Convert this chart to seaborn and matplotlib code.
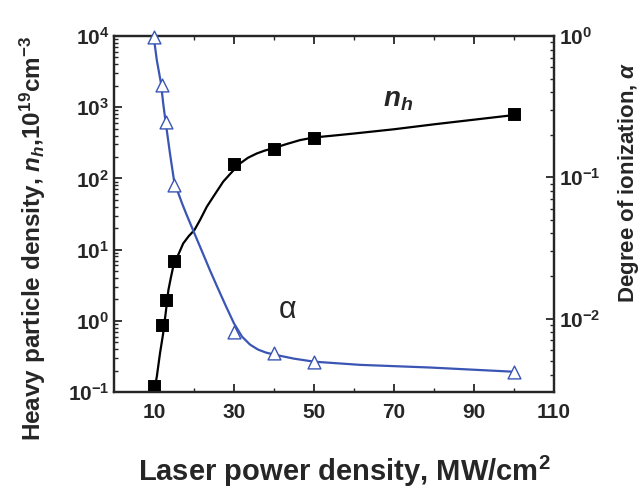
import math
import matplotlib
matplotlib.use("Agg")
import matplotlib.pyplot as plt
import matplotlib.ticker as mticker
import seaborn as sns
import pandas as pd

# measured points
power = [10, 12, 13, 15, 30, 40, 50, 100]
n_h = [0.12, 0.88, 1.95, 6.9, 158, 263, 366, 790]
alpha = [0.98, 0.45, 0.245, 0.088, 0.0080, 0.0057, 0.0049, 0.0042]

# fitted curves
nh_fit_x = [10.0, 10.7, 11.5, 12.3, 13.0, 13.6, 14.2, 14.8, 15.7, 17.3, 18.7, 20.1,
            21.5, 23.2, 24.8, 27.3, 29.0, 31.5, 33.5, 35.7, 37.7, 39.8, 43, 46.5,
            50, 55, 60, 70, 80, 90, 100]
nh_fit = [0.1, 0.164, 0.35, 0.67, 1.4, 2.7, 4.0, 5.75, 7.6, 12.2, 15.5, 18.8,
          26, 40, 55, 90, 115, 162, 195, 224, 246, 265, 302, 345,
          376, 400, 427, 490, 575, 668, 776]
alpha_fit_x = [9.9, 10.7, 11.75, 12.3, 12.9, 14.0, 14.5, 15.0, 15.5, 16.0, 17, 18, 20,
               22, 24, 26, 28, 30, 32, 34, 36, 38, 40, 45, 50, 61.5, 79, 100]
alpha_fit = [1.0, 0.675, 0.462, 0.333, 0.247, 0.147, 0.118, 0.0952, 0.0849, 0.0783, 0.0655,
             0.0556, 0.0407, 0.0299, 0.0219, 0.0163, 0.0122, 0.00923, 0.00745, 0.00654,
             0.00603, 0.00574, 0.00556, 0.0052, 0.00495, 0.0047, 0.0045, 0.0042]

x_ticks = [10, 30, 50, 70, 90, 110]
x_minor = [20, 40, 60, 80, 100]
blue = "#3a55b4"

sns.set_style("ticks")
plt.rcParams["font.family"] = ["Liberation Sans", "DejaVu Sans"]
plt.rcParams["font.weight"] = "bold"
plt.rcParams["mathtext.fontset"] = "custom"
plt.rcParams["mathtext.rm"] = "Liberation Sans:bold"
plt.rcParams["mathtext.bf"] = "Liberation Sans:bold"
plt.rcParams["mathtext.it"] = "Liberation Sans:italic"
plt.rcParams["mathtext.bfit"] = "Liberation Sans:italic:bold"
plt.rcParams["mathtext.default"] = "bf"

pts = pd.DataFrame({"power": power, "n_h": n_h, "alpha": alpha})
nh_df = pd.DataFrame({"x": nh_fit_x, "y": nh_fit})
al_df = pd.DataFrame({"x": alpha_fit_x, "y": alpha_fit})

fig = plt.figure(figsize=(6.43, 4.96), dpi=100)
ax = fig.add_axes([0.1773, 0.2097, 0.6843, 0.7177])
ax2 = ax.twinx()

sns.lineplot(data=nh_df, x="x", y="y", ax=ax, color="black", lw=1.6, sort=False)
sns.scatterplot(data=pts, x="power", y="n_h", ax=ax, marker="s", s=70,
                color="black", edgecolor="black", zorder=5, clip_on=False)
sns.lineplot(data=al_df, x="x", y="y", ax=ax2, color=blue, lw=1.6, sort=False)
sns.scatterplot(data=pts, x="power", y="alpha", ax=ax2, marker="^", s=85,
                facecolor="white", edgecolor=blue, linewidth=1.0, zorder=5, clip_on=False)

ax.set_yscale("log")
ax2.set_yscale("log")
ax.set_xlim(0, 110)
ax.set_ylim(0.1, 1e4)
ax2.set_ylim(10 ** -2.52, 1)

ax.set_xticks(x_ticks)
ax.xaxis.set_minor_locator(mticker.FixedLocator(x_minor))


def logfmt(v, pos):
    return r"$\mathbf{10^{%d}}$" % int(round(math.log10(v)))


for a in (ax, ax2):
    a.yaxis.set_major_locator(mticker.LogLocator(base=10, numticks=10))
    a.yaxis.set_minor_locator(mticker.LogLocator(base=10, subs=range(2, 10), numticks=10))
    a.yaxis.set_major_formatter(mticker.FuncFormatter(logfmt))
    a.yaxis.set_minor_formatter(mticker.NullFormatter())
    a.tick_params(which="major", direction="in", length=6, width=1.3, labelsize=15)
    a.tick_params(which="minor", direction="in", length=3, width=1.0)
    for s in a.spines.values():
        s.set_linewidth(1.6)
        s.set_visible(True)
ax.tick_params(axis="x", which="both", top=True, pad=8)
ax.tick_params(axis="y", which="both", right=False)

ax.set_xlabel(r"Laser power density, MW/cm$^{2}$", fontsize=21, fontweight="bold")
ax.xaxis.set_label_coords(0.523, -0.175)
ax.set_ylabel(r"Heavy particle density, $\mathbfit{n_h}$,10$^{19}$cm$^{-3}$",
              fontsize=17.5, fontweight="bold")
ax.yaxis.set_label_coords(-0.15, 0.43)
ax2.set_ylabel(r"Degree of ionization, $\mathit{\alpha}$", fontsize=16, fontweight="bold")
ax2.yaxis.set_label_coords(1.14, 0.59)

ax.text(71, 1250, r"$\mathbfit{n_h}$", fontsize=20, ha="center", va="center")
ax.text(43.5, 1.4, "α", fontsize=22, fontweight="normal", ha="center", va="center")

fig.savefig("out.png", dpi=100)
